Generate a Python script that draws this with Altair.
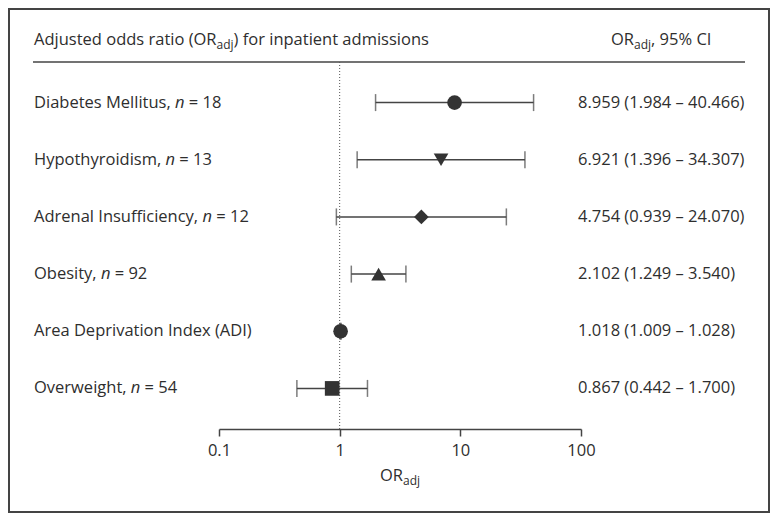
import altair as alt
import pandas as pd
import struct, subprocess, glob, os

# ---------------- data ----------------
names = ["Diabetes Mellitus", "Hypothyroidism", "Adrenal Insufficiency",
         "Obesity", "Area Deprivation Index (ADI)", "Overweight"]
counts = [18, 13, 12, 92, None, 54]
or_adj = [8.959, 6.921, 4.754, 2.102, 1.018, 0.867]
ci_low = [1.984, 1.396, 0.939, 1.249, 1.009, 0.442]
ci_high = [40.466, 34.307, 24.070, 3.540, 1.028, 1.700]
shapes = ["circle", "triangle-down", "diamond", "triangle-up", "circle", "square"]
tick_values = [0.1, 1, 10, 100]

# ---------------- style / layout ----------------
FONT = "Open Sans"
FS = 16.5
SUB = 12
TXT = "#2e2e2e"
LINE = "#444444"
W, H = 362, 367
PAD = {"left": 211, "top": 54, "right": 189, "bottom": 84}
LEFT_X = -185
RIGHT_X = 359
HEAD_Y = -17


# ---------------- text measuring (font file metrics) ----------------
def _font_file(pattern):
    try:
        out = subprocess.run(["fc-match", "-f", "%{file}", pattern],
                             capture_output=True, text=True, timeout=10).stdout.strip()
        if out and os.path.exists(out):
            return out
    except Exception:
        pass
    return None


def _load_widths(path):
    data = open(path, "rb").read()
    off = struct.unpack(">I", data[12:16])[0] if data[:4] == b"ttcf" else 0
    ntab = struct.unpack(">H", data[off + 4:off + 6])[0]
    tables = {}
    for i in range(ntab):
        rec = off + 12 + 16 * i
        tag = data[rec:rec + 4].decode("latin1")
        _, toff, tlen = struct.unpack(">III", data[rec + 4:rec + 16])
        tables[tag] = toff
    head = tables["head"]
    upem = struct.unpack(">H", data[head + 18:head + 20])[0]
    hhea = tables["hhea"]
    nhm = struct.unpack(">H", data[hhea + 34:hhea + 36])[0]
    hmtx = tables["hmtx"]
    adv = [struct.unpack(">H", data[hmtx + 4 * i:hmtx + 4 * i + 2])[0] for i in range(nhm)]
    cm = tables["cmap"]
    nsub = struct.unpack(">H", data[cm + 2:cm + 4])[0]
    for i in range(nsub):
        pid, eid, soff = struct.unpack(">HHI", data[cm + 4 + 8 * i:cm + 12 + 8 * i])
        st = cm + soff
        fmt = struct.unpack(">H", data[st:st + 2])[0]
        if fmt == 4 and pid in (0, 3):
            segx2 = struct.unpack(">H", data[st + 6:st + 8])[0]
            seg = segx2 // 2
            ends = struct.unpack(">%dH" % seg, data[st + 14:st + 14 + segx2])
            starts = struct.unpack(">%dH" % seg, data[st + 16 + segx2:st + 16 + 2 * segx2])
            deltas = struct.unpack(">%dh" % seg, data[st + 16 + 2 * segx2:st + 16 + 3 * segx2])
            rpos = st + 16 + 3 * segx2
            roffs = struct.unpack(">%dH" % seg, data[rpos:rpos + segx2])

            def width(ch):
                c = ord(ch)
                g = 0
                for k in range(seg):
                    if starts[k] <= c <= ends[k]:
                        if roffs[k] == 0:
                            g = (c + deltas[k]) & 0xFFFF
                        else:
                            gp = rpos + 2 * k + roffs[k] + 2 * (c - starts[k])
                            gg = struct.unpack(">H", data[gp:gp + 2])[0]
                            g = (gg + deltas[k]) & 0xFFFF if gg else 0
                        break
                return adv[min(g, nhm - 1)] / upem
            return width
    raise ValueError("no cmap")


def _make_measure(italic):
    path = _font_file(FONT + (":italic" if italic else ""))
    if path is None:
        cands = glob.glob("/usr/share/fonts/**/OpenSans*%s*.ttf" % ("Italic" if italic else ""), recursive=True)
        path = cands[0] if cands else None
    try:
        fn = _load_widths(path)
        return lambda s, size: sum(fn(c) for c in s) * size
    except Exception:
        return lambda s, size: len(s) * 0.55 * size


measure = _make_measure(False)
measure_it = _make_measure(True)

# ---------------- table ----------------
rows = []
for nm, n, o, lo, hi, sh in zip(names, counts, or_adj, ci_low, ci_high, shapes):
    part1 = nm + ("," if n is not None else "")
    xn = LEFT_X + measure(nm + ", ", FS)
    x3 = xn + measure_it("n", FS) + measure(" ", FS)
    rows.append({
        "name": nm, "or": o, "lo": lo, "hi": hi, "shape": sh,
        "part1": part1,
        "italic_n": "n" if n is not None else "",
        "rest": ("= %d" % n) if n is not None else "",
        "xn": xn, "x3": x3,
        "ci_text": "%.3f (%.3f \u2013 %.3f)" % (o, lo, hi),
    })
df = pd.DataFrame(rows)
one = pd.DataFrame({"k": [0]})

Y = alt.Y("name:N", sort=names, scale=alt.Scale(type="point", padding=0.71), axis=None)
XSCALE = alt.Scale(type="log", domain=[0.1, 100])
XAXIS = alt.Axis(values=tick_values, format="~g", title=None, grid=False,
                 domainColor=LINE, domainWidth=1.5, tickColor=LINE, tickWidth=1.5,
                 tickSize=7, labelPadding=6, labelFont=FONT, labelFontSize=FS,
                 labelColor=TXT, labelBaseline="top", labelFlush=False)

base = alt.Chart(df)

whisker = base.mark_rule(color=LINE, strokeWidth=1.5).encode(
    x=alt.X("lo:Q", scale=XSCALE, axis=XAXIS), x2="hi:Q", y=Y)

caps = base.transform_fold(["lo", "hi"], as_=["end", "xv"]).mark_tick(
    color=LINE, thickness=1.5, size=17).encode(
    x=alt.X("xv:Q", scale=XSCALE, axis=XAXIS), y=Y)

points = base.mark_point(filled=True, opacity=1, color="#333333", size=215).encode(
    x=alt.X("or:Q", scale=XSCALE, axis=XAXIS), y=Y,
    shape=alt.Shape("shape:N", scale=None))

ref = alt.Chart(one).mark_rule(color="#555555", strokeWidth=1, strokeDash=[1, 2]).encode(
    x=alt.datum(1, scale=XSCALE, axis=XAXIS), y=alt.value(0), y2=alt.value(H))

text_kw = dict(font=FONT, fontSize=FS, color=TXT, align="left", baseline="middle")

lab1 = base.mark_text(**text_kw).encode(x=alt.value(LEFT_X), y=Y, text="part1:N")
lab_n = base.mark_text(fontStyle="italic", **text_kw).encode(
    x=alt.X("xn:Q", scale=None), y=Y, text="italic_n:N")
lab3 = base.mark_text(**text_kw).encode(
    x=alt.X("x3:Q", scale=None), y=Y, text="rest:N")
ci = base.mark_text(**text_kw).encode(x=alt.value(RIGHT_X), y=Y, text="ci_text:N")


def piece(txt, x, y, size, align="left"):
    return alt.Chart(one).mark_text(font=FONT, fontSize=size, color=TXT, align=align,
                                    baseline="alphabetic", text=txt).encode(
        x=alt.value(x), y=alt.value(y))


def with_sub(before, after, x, y, center=False):
    w1 = measure(before, FS)
    w2 = measure("adj", SUB)
    w3 = measure(after, FS) if after else 0
    if center:
        x = x - (w1 + w2 + w3) / 2
    out = [piece(before, x, y, FS), piece("adj", x + w1, y + 3.5, SUB)]
    if after:
        out.append(piece(after, x + w1 + w2, y, FS))
    return out


annotations = []
annotations += with_sub("Adjusted odds ratio (OR", ") for inpatient admissions", LEFT_X, HEAD_Y)
annotations += with_sub("OR", ", 95% CI", 392, HEAD_Y)
annotations += with_sub("OR", "", W / 2, 419, center=True)

header_line = alt.Chart(one).mark_rule(color=LINE, strokeWidth=1.5).encode(
    x=alt.value(-186), x2=alt.value(526), y=alt.value(0))

frame = alt.Chart(one).mark_rect(fillOpacity=0, stroke=LINE, strokeWidth=2).encode(
    x=alt.value(-210), x2=alt.value(550), y=alt.value(-53), y2=alt.value(450))

chart = alt.layer(
    frame, header_line, ref, whisker, caps, points,
    lab1, lab_n, lab3, ci, *annotations
).properties(
    width=W, height=H,
    autosize=alt.AutoSizeParams(type="none"),
    padding=PAD,
).configure_view(stroke=None)

chart.save("out.html", embed_options={"renderer": "svg", "actions": False})
